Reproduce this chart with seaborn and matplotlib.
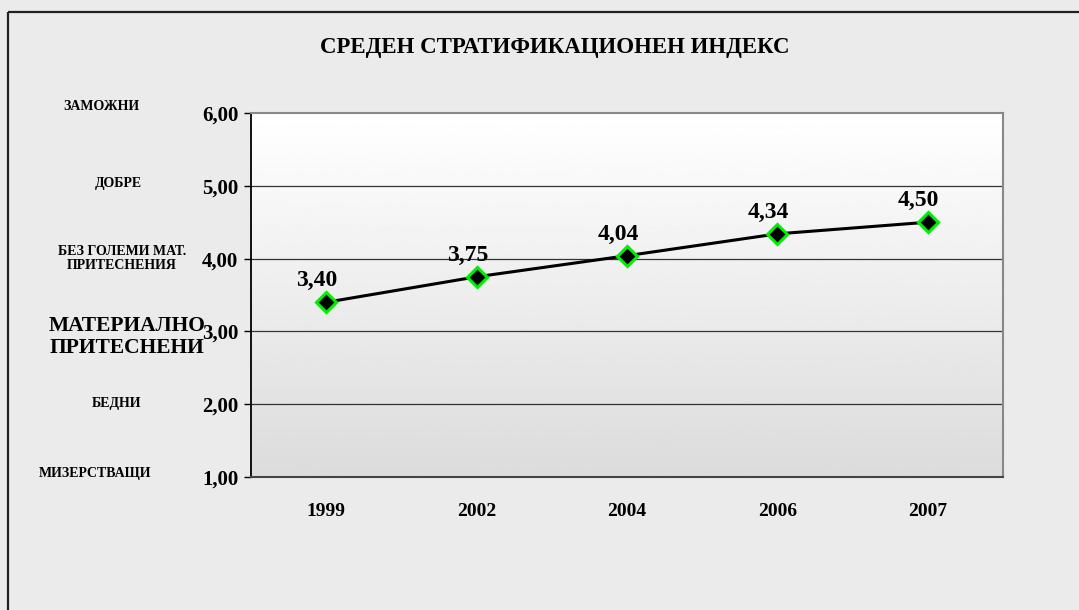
import numpy as np
import pandas as pd
import matplotlib
matplotlib.use("Agg")
import matplotlib.pyplot as plt
import seaborn as sns
from matplotlib.lines import Line2D

years = ["1999", "2002", "2004", "2006", "2007"]
values = [3.40, 3.75, 4.04, 4.34, 4.50]
value_labels = ["3,40", "3,75", "4,04", "4,34", "4,50"]
y_ticks = [1, 2, 3, 4, 5, 6]
y_tick_labels = ["1,00", "2,00", "3,00", "4,00", "5,00", "6,00"]
title = "СРЕДЕН СТРАТИФИКАЦИОНЕН ИНДЕКС"
side_labels = ["ЗАМОЖНИ", "ДОБРЕ", "БЕЗ ГОЛЕМИ МАТ.\nПРИТЕСНЕНИЯ",
               "МАТЕРИАЛНО\nПРИТЕСНЕНИ", "БЕДНИ", "МИЗЕРСТВАЩИ"]

sns.set_theme(style="white")
plt.rcParams['font.family'] = ['Liberation Serif', 'DejaVu Serif']
plt.rcParams['text.color'] = 'black'
plt.rcParams['xtick.color'] = 'black'
plt.rcParams['ytick.color'] = 'black'
plt.rcParams['xtick.labelcolor'] = 'black'
plt.rcParams['ytick.labelcolor'] = 'black'

W, H = 1079, 610
fig = plt.figure(figsize=(W / 100, H / 100), dpi=100)
fig.patch.set_facecolor("#ebebeb")

# outer frame lines
fig.add_artist(Line2D([8 / W, 8 / W], [0, 1 - 12 / H], color="#222222", lw=1.6,
                      transform=fig.transFigure, solid_capstyle="butt"))
fig.add_artist(Line2D([8 / W, 1.01], [1 - 12 / H, 1 - 12 / H], color="#222222", lw=1.6,
                      transform=fig.transFigure, solid_capstyle="butt"))

left, right, top, bottom = 251, 1003, 113, 477
ax = fig.add_axes([left / W, 1 - bottom / H, (right - left) / W, (bottom - top) / H])

# gradient background
grad = np.linspace(1.0, 0.86, 256).reshape(-1, 1)
ax.imshow(grad, cmap="gray", vmin=0, vmax=1, aspect="auto",
          extent=[0, 1, 0, 1], transform=ax.transAxes, zorder=0)

df = pd.DataFrame({"pos": np.arange(len(years)), "value": values})
sns.lineplot(data=df, x="pos", y="value", ax=ax, color="black", lw=2.2,
             marker="D", markersize=10, markerfacecolor="black",
             markeredgecolor="#00ee00", markeredgewidth=2.2, zorder=5)

for i, (v, lab) in enumerate(zip(values, value_labels)):
    ax.text(i - 0.06, v + 0.15, lab, ha="center", va="bottom", fontsize=17,
            fontweight="bold", color="black", zorder=6)

ax.set_xlim(-0.5, len(years) - 0.5)
ax.set_ylim(1, 6)
ax.set_xlabel("")
ax.set_ylabel("")

for y in [2, 3, 4, 5]:
    ax.axhline(y, color="#333333", lw=0.9, zorder=1)

ax.set_yticks(y_ticks)
ax.set_yticklabels(y_tick_labels, fontsize=15, fontweight="bold")
ax.set_xticks(np.arange(len(years)))
ax.set_xticklabels(years, fontsize=14, fontweight="bold")
ax.set_xticks(np.arange(-0.5, len(years)), minor=True)
ax.tick_params(axis="x", which="major", length=0, pad=19)
ax.tick_params(axis="x", which="minor", length=7, width=1, color="#333333", direction="out")
ax.tick_params(axis="y", which="major", length=5, width=1, color="black", direction="out", pad=4, left=True)

for s in ["top", "right"]:
    ax.spines[s].set_color("#888888")
    ax.spines[s].set_linewidth(1.5)
ax.spines["left"].set_color("black")
ax.spines["left"].set_linewidth(1.3)
ax.spines["bottom"].set_color("#444444")
ax.spines["bottom"].set_linewidth(1.5)

fig.text(555 / W, 1 - 47 / H, title, ha="center", va="center", fontsize=16.5,
         fontweight="bold", color="black")

# side category labels (x center px, y center px, fontsize)
side_pos = [(101, 106, 10), (118, 184, 10), (122, 258, 10),
            (127, 337, 15.5), (117, 403, 10), (95, 474, 10)]
for lab, (xp, yp, fs) in zip(side_labels, side_pos):
    fig.text(xp / W, 1 - yp / H, lab, ha="center", va="center", fontsize=fs,
             fontweight="bold", linespacing=1.1, multialignment="center", color="black")

fig.savefig("out.png", dpi=100)
